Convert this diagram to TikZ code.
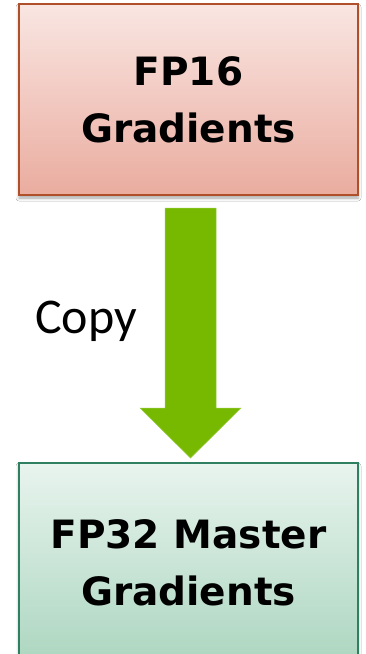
\documentclass[tikz,border=0pt]{standalone}
\usepackage{fontspec}
\newfontfamily\boxfont{DejaVu Sans}
\newfontfamily\labfont{Carlito}
\usetikzlibrary{shadows.blur}
\definecolor{redborder}{HTML}{B0502A}
\definecolor{redtop}{HTML}{F9E6E2}
\definecolor{redbot}{HTML}{EAAC9F}
\definecolor{greenborder}{HTML}{2E8060}
\definecolor{greentop}{HTML}{E8F4EE}
\definecolor{greenbot}{HTML}{ACD6C0}
\definecolor{arrowgreen}{HTML}{76B900}
\definecolor{arrowedge}{HTML}{9ACD45}
\tikzset{
  box/.style={rectangle, minimum width=339pt, line width=1.6pt, inner sep=0pt,
    align=center, font=\boxfont\bfseries\fontsize{39}{57}\selectfont,
    blur shadow={shadow xshift=0pt, shadow yshift=-3pt, shadow blur radius=3pt, shadow opacity=35}},
  redbox/.style={box, draw=redborder, top color=redtop, bottom color=redbot, minimum height=191pt},
  greenbox/.style={box, draw=greenborder, top color=greentop, bottom color=greenbot, minimum height=200pt},
  lab/.style={font=\labfont\fontsize{50}{60}\selectfont, inner sep=0pt, anchor=base west}
}
\begin{document}
\begin{tikzpicture}[x=1pt,y=1pt]
\clip (0,0) rectangle (365,-654);
\fill[white] (0,0) rectangle (365,-654);
\node[redbox] (fp16) at (188.5,-99.5) {FP16\\Gradients};
\node[greenbox] (fp32) at (188.5,-563) {FP32 Master\\Gradients};
\coordinate (a1) at (165,-208);
\coordinate (a2) at (216,-208);
\coordinate (a3) at (216,-408);
\coordinate (a4) at (241,-408);
\coordinate (tip) at (190.5,-458);
\coordinate (a6) at (140,-408);
\coordinate (a7) at (165,-408);
\fill[arrowgreen, draw=arrowedge, line width=0.5pt] (a1) -- (a2) -- (a3) -- (a4) -- (tip) -- (a6) -- (a7) -- cycle;
\node[lab] (copy) at (35,-333) {Copy};
\end{tikzpicture}
\end{document}
